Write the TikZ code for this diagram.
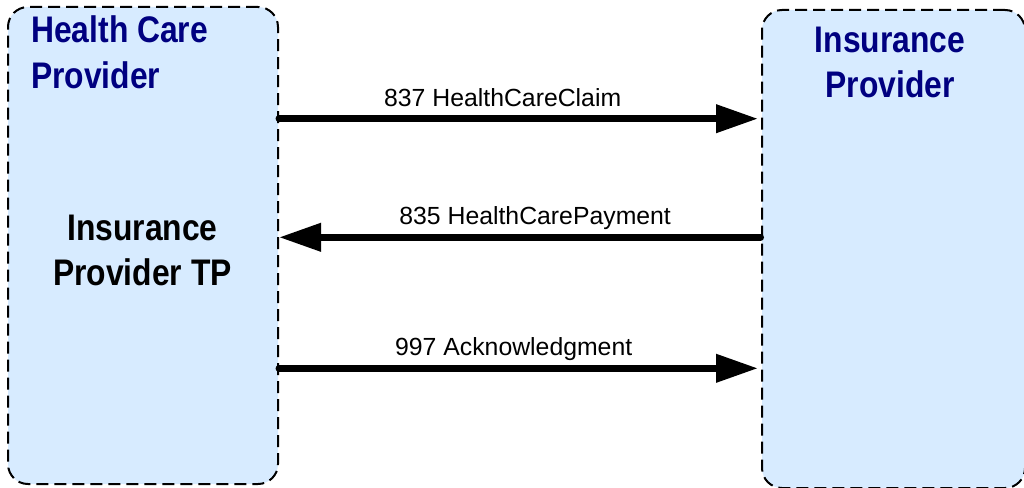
\documentclass[tikz,border=0pt]{standalone}
\usepackage{fontspec}
\setmainfont{Liberation Sans}
\newfontfamily\titlefont{Liberation Sans}[FakeStretch=0.86]
\usetikzlibrary{arrows.meta}
\definecolor{panelfill}{RGB}{215,235,255}
\definecolor{titlenavy}{RGB}{0,0,128}
\tikzset{
  panel/.style={draw=black, line width=2pt, dash pattern=on 12pt off 6pt,
    fill=panelfill, rounded corners=20pt, inner sep=0pt},
  title/.style={font=\titlefont\bfseries\fontsize{37}{45}\selectfont, inner sep=0pt},
  msg/.style={line width=7pt, line cap=round,
    -{Triangle[length=42pt, width=27pt]}},
  msglabel/.style={font=\fontsize{24.8}{30}\selectfont, inner sep=0pt,
    anchor=base, yshift=12.5pt}
}
\begin{document}
\begin{tikzpicture}[x=1pt, y=-1pt]
\useasboundingbox (0,0) rectangle (1024,487);

% the two parties
\node (hcp) [panel, minimum width=270pt, minimum height=477pt] at (143,245.5) {};
\node (ins) [panel, minimum width=263pt, minimum height=478pt] at (893.5,249) {};

% titles (base anchor sits on the last line)
\node (hcptitle) [title, text=titlenavy, align=left, anchor=base west] at (31,88) {Health Care\\Provider};
\node (institle) [title, text=titlenavy, align=center, anchor=base] at (890,97) {Insurance\\Provider};
\node (tp) [title, text=black, align=center, anchor=base] at (142.5,285) {Insurance\\Provider TP};

% message end points on the panel borders
\coordinate (c1s) at (hcp.east |- 0,118.7);
\coordinate (c1e) at (758,118.7);
\coordinate (c2s) at (760.5,237.3);
\coordinate (c2e) at (hcp.east |- 0,237.3);
\coordinate (c3s) at (hcp.east |- 0,368.3);
\coordinate (c3e) at (758,368.3);

% messages
\draw[msg] (c1s) -- node[msglabel, pos=0.467] {837 HealthCareClaim} (c1e);
\draw[msg] (c2s) -- node[msglabel, pos=0.468] {835 HealthCarePayment} (c2e);
\draw[msg] (c3s) -- node[msglabel, pos=0.49] {997 Acknowledgment} (c3e);
\end{tikzpicture}
\end{document}
